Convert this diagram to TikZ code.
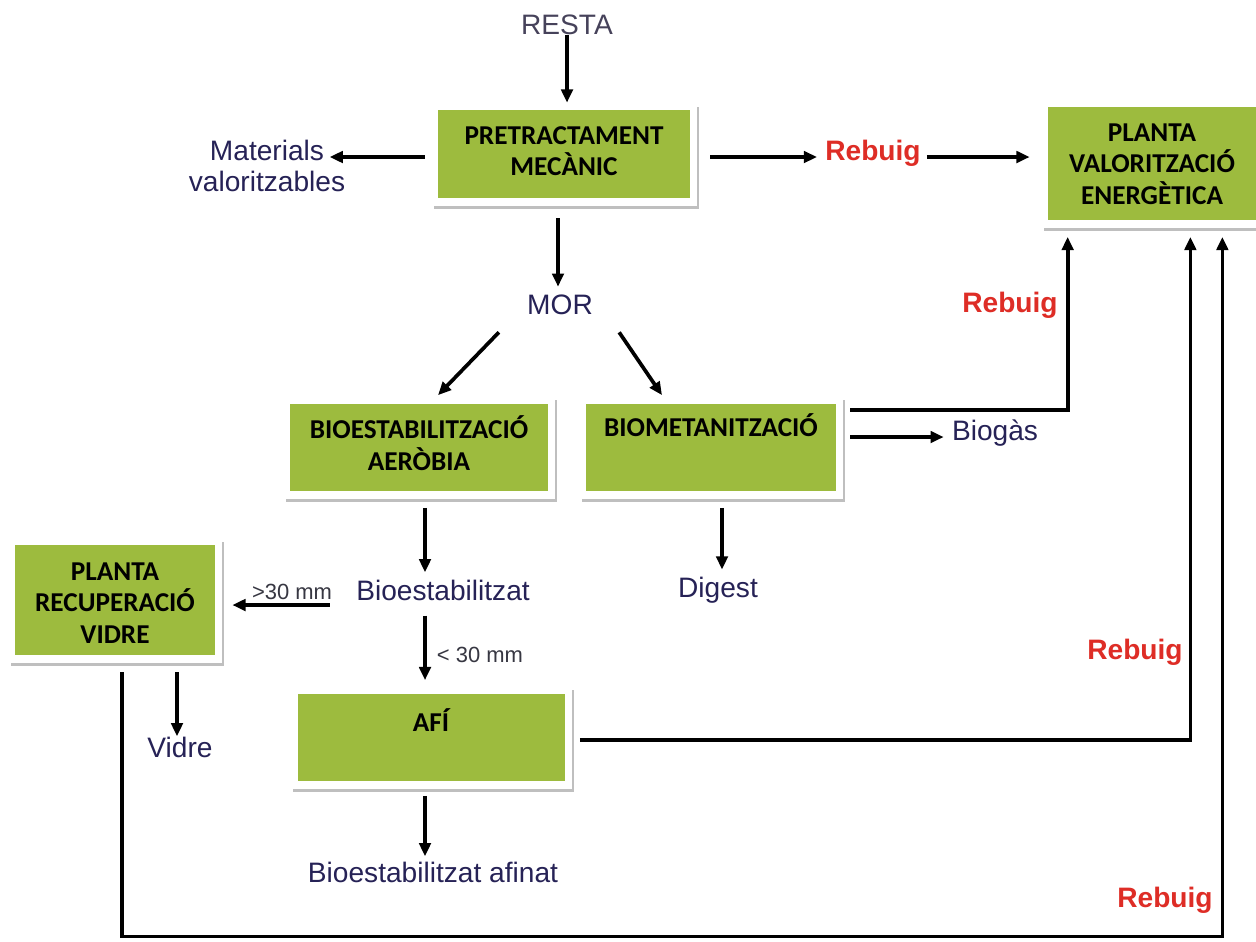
\documentclass[tikz,border=0pt]{standalone}
\usepackage{fontspec}
\setmainfont{Liberation Sans}
\newfontfamily\boxfont{Carlito}
\usetikzlibrary{arrows.meta,calc,backgrounds}
\definecolor{boxgreen}{RGB}{157,187,62}
\definecolor{lblblue}{RGB}{38,34,86}
\definecolor{rebred}{RGB}{222,45,38}
\definecolor{restagray}{RGB}{70,66,90}
\definecolor{smallgray}{RGB}{55,55,66}
\newcommand\gshadow[1]{%
  \fill[gray!50] ($(#1.north west)+(-4,-3)$) rectangle ($(#1.south east)+(9,11)$);
  \fill[white] ($(#1.north west)+(-7,-6)$) rectangle ($(#1.south east)+(7,8)$);}
\begin{document}
\begin{tikzpicture}[x=0.02cm,y=-0.02cm,
  arr/.style={line width=2.1pt,-{Triangle[length=7.5pt,width=6.5pt]}},
  gbox/.style n args={2}{fill=boxgreen,inner sep=0pt,minimum width={#1*0.02cm},minimum height={#2*0.02cm}},
  btxt/.style={font=\boxfont\bfseries\fontsize{15.5}{18}\selectfont,align=center,inner sep=0pt},
  lbl/.style={font=\fontsize{16}{18}\selectfont,text=lblblue,inner sep=0pt},
  reb/.style={font=\bfseries\fontsize{16}{18}\selectfont,text=rebred,inner sep=0pt},
  small/.style={font=\fontsize{12.5}{14}\selectfont,text=smallgray,inner sep=0pt}]
\useasboundingbox (0,0) rectangle (1256,941);
% nodes
\node[lbl,text=restagray] (resta) at (567,25) {RESTA};
\node[gbox={252}{88}] (pre) at (564,154) {};
\node[btxt] (pret) at (564,151) {PRETRACTAMENT\\MECÀNIC};
\node[lbl,align=center] (mat) at (267,166) {Materials\\valoritzables};
\node[reb] (rb1) at (873,153) {Rebuig};
\node[gbox={208}{113}] (pve) at (1152,163) {};
\node[btxt] (pvet) at (1152,164) {PLANTA\\VALORITZACIÓ\\ENERGÈTICA};
\node[lbl] (mor) at (560,305) {MOR};
\node[gbox={258}{87}] (bioest) at (419,447) {};
\node[btxt] (bioestt) at (419,443) {BIOESTABILITZACIÓ\\AERÒBIA};
\node[gbox={250}{87}] (biomet) at (711,447) {};
\node[btxt] (biomett) at (711,425) {BIOMETANITZACIÓ};
\node[reb] (rb2) at (1010,305) {Rebuig};
\node[lbl] (biogas) at (995,433) {Biogàs};
\node[lbl] (digest) at (718,590) {Digest};
\node[lbl] (bst) at (443,590) {Bioestabilitzat};
\node[small] (gt) at (292,592) {>30 mm};
\node[gbox={200}{110}] (prv) at (115,600) {};
\node[btxt] (prvt) at (115,603) {PLANTA\\RECUPERACIÓ\\VIDRE};
\node[small] (lt) at (480,655) {< 30 mm};
\node[gbox={267}{87}] (afi) at (431,737) {};
\node[btxt] (afit) at (431,720) {AFÍ};
\node[reb] (rb3) at (1135,652) {Rebuig};
\node[lbl] (afinat) at (433,872) {Bioestabilitzat afinat};
\node[lbl] (vidre) at (180,747) {Vidre};
\node[reb] (rb4) at (1165,900) {Rebuig};
% background and shadows
\begin{scope}[on background layer]
  \fill[white] (0,0) rectangle (1256,941);
  \gshadow{pre}\gshadow{pve}\gshadow{bioest}\gshadow{biomet}\gshadow{prv}\gshadow{afi}
\end{scope}
% connectors
\draw[arr] (resta.south) -- ($(pre.north)+(3,-7)$);
\draw[arr] ($(pre.west)+(-13,3)$) -- ($(pre.west)+(-108,3)$);
\draw[arr] ($(pre.east)+(20,3)$) -- ($(rb1.west)+(-8,4)$);
\draw[arr] ($(rb1.east)+(6,4)$) -- ($(pve.west)+(-18,-6)$);
\draw[arr] ($(pre.south)+(-6,20)$) -- ($(mor.north)+(-2,-8)$);
\draw[arr] ($(mor.south west)+(-28,17)$) -- ($(bioest.north)+(19,-8)$);
\draw[arr] ($(mor.south east)+(26,17)$) -- ($(biomet.north)+(-49,-8)$);
\draw[arr] ($(biomet.east)+(14,-37)$) -| ($(pve.south west)+(20,17)$);
\draw[arr] ($(biomet.east)+(14,-10)$) -- ($(biogas.west)+(-8,4)$);
\draw[arr] ($(biomet.south)+(11,17)$) -- ($(digest.north)+(4,-7)$);
\draw[arr] ($(bioest.south)+(6,17)$) -- ($(bst.north)+(-18,-7)$);
\draw[arr] ($(bst.west)+(-26,15)$) -- ($(prv.east)+(17,5)$);
\draw[arr] ($(bst.south)+(-18,15)$) -- ($(afi.north)+(-6,-13)$);
\draw[arr] ($(afi.east)+(15,3)$) -| ($(pve.south east)+(-66,17)$);
\draw[arr] ($(afi.south)+(-6,15)$) -- ($(afinat.north)+(-8,-5)$);
\draw[arr] ($(prv.south)+(7,17)$) -- ++(0,264) -| ($(pve.south east)+(-34,17)$);
\draw[arr] ($(prv.south)+(62,17)$) -- ($(vidre.north)+(-3,0)$);
\end{tikzpicture}
\end{document}
